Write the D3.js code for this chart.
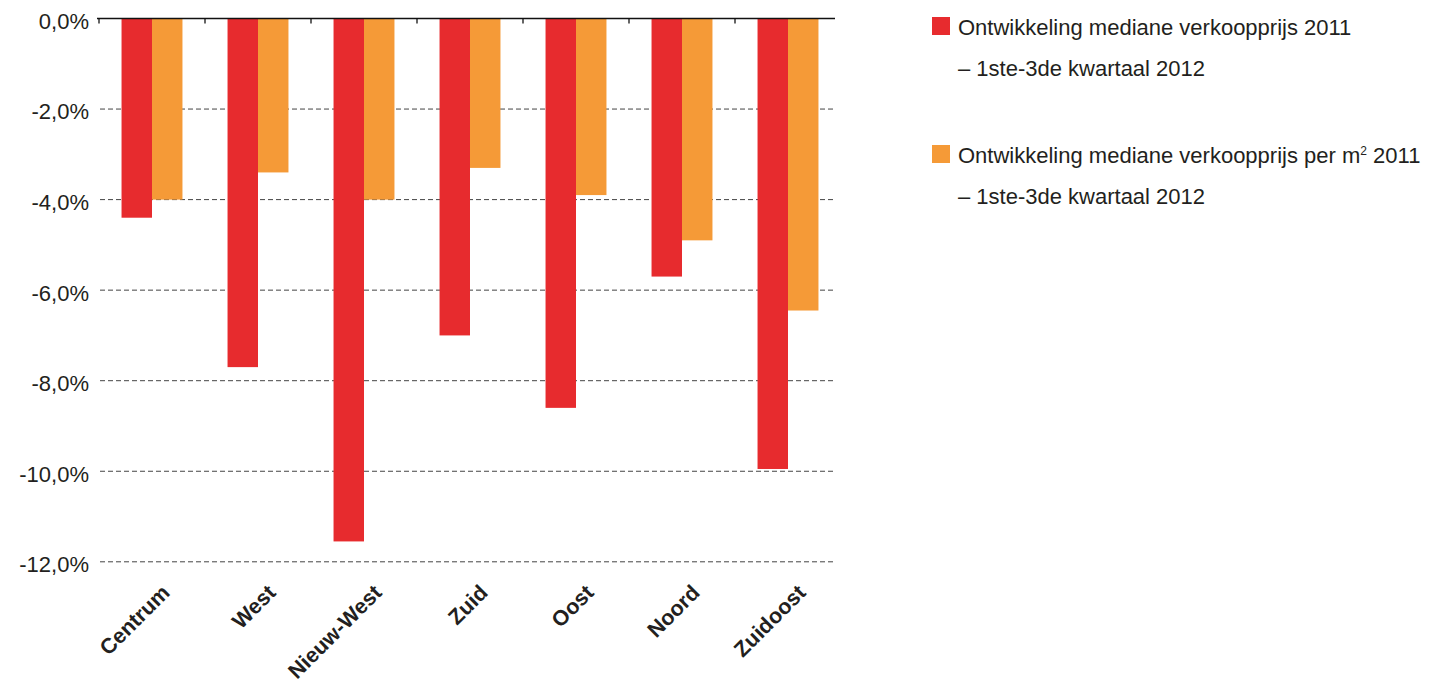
<!DOCTYPE html>
<html>
<head>
<meta charset="utf-8">
<script src="https://cdn.jsdelivr.net/npm/d3@7/dist/d3.min.js"></script>
<style>
  html, body { margin: 0; padding: 0; background: #fff; }
  svg { display: block; }
  text { font-family: "Liberation Sans", Arial, Helvetica, sans-serif; fill: #231f20; }
</style>
</head>
<body>
<svg id="chart" width="1436" height="682"></svg>
<script>
// Stadsdelen van Amsterdam
const categories = ["Centrum", "West", "Nieuw-West", "Zuid", "Oost", "Noord", "Zuidoost"];
const seriesKeys = ["prijs", "prijsM2"];
// Ontwikkeling mediane verkoopprijs 2011 – 1ste-3de kwartaal 2012 (%)
const prijs = [-4.4, -7.7, -11.55, -7.0, -8.6, -5.7, -9.95];
// Ontwikkeling mediane verkoopprijs per m² 2011 – 1ste-3de kwartaal 2012 (%)
const prijsM2 = [-4.0, -3.4, -4.0, -3.3, -3.9, -4.9, -6.45];
const yTicks = [0, -2, -4, -6, -8, -10, -12];
const seriesColors = ["#e72b2e", "#f59a37"];
const legendLines = [
  ["Ontwikkeling mediane verkoopprijs 2011", "– 1ste-3de kwartaal 2012"],
  ["Ontwikkeling mediane verkoopprijs per m", "– 1ste-3de kwartaal 2012"]
];

const rows = categories.map((c, i) => ({ cat: c, prijs: prijs[i], prijsM2: prijsM2[i] }));

const svg = d3.select("#chart");

const x = d3.scaleBand().domain(categories).range([99, 99 + 106 * 7]).paddingInner(0).paddingOuter(0);
const xSub = d3.scaleBand().domain(seriesKeys).range([0, x.bandwidth()]).paddingInner(0).paddingOuter(0.74);
const y = d3.scaleLinear().domain([0, -12]).range([18.5, 561.8]);
const color = d3.scaleOrdinal().domain(seriesKeys).range(seriesColors);

const plotRight = 835;

// dashed gridlines
svg.append("g")
  .selectAll("line")
  .data(yTicks.filter(t => t !== 0))
  .join("line")
  .attr("x1", 100).attr("x2", plotRight)
  .attr("y1", d => y(d)).attr("y2", d => y(d))
  .attr("stroke", "#444")
  .attr("stroke-width", 1)
  .attr("stroke-dasharray", "5,3");

// y axis labels
const fmt = v => v.toFixed(1).replace(".", ",") + "%";
const yAxis = svg.append("g")
  .attr("transform", "translate(89,0)")
  .call(d3.axisLeft(y).tickValues(yTicks).tickFormat(fmt).tickSize(0).tickPadding(0));
yAxis.select(".domain").remove();
yAxis.selectAll("text")
  .attr("font-size", 22)
  .attr("dy", "0.45em")
  .attr("fill", "#231f20")
  .style("font-family", "'Liberation Sans', Arial, Helvetica, sans-serif");

// bars
svg.append("g")
  .selectAll("g")
  .data(rows)
  .join("g")
  .attr("transform", d => `translate(${x(d.cat)},0)`)
  .selectAll("rect")
  .data(d => seriesKeys.map(k => ({ key: k, value: d[k] })))
  .join("rect")
  .attr("x", d => xSub(d.key))
  .attr("width", xSub.bandwidth())
  .attr("y", y(0))
  .attr("height", d => y(d.value) - y(0))
  .attr("fill", d => color(d.key));

// zero line with ticks
const zero = svg.append("g");
zero.append("line")
  .attr("x1", 97).attr("x2", plotRight)
  .attr("y1", y(0)).attr("y2", y(0))
  .attr("stroke", "#111").attr("stroke-width", 1.3);
zero.selectAll("line.tick")
  .data(categories)
  .join("line")
  .attr("class", "tick")
  .attr("x1", d => x(d)).attr("x2", d => x(d))
  .attr("y1", y(0)).attr("y2", y(0) + 5)
  .attr("stroke", "#111").attr("stroke-width", 1.3);

// category labels, rotated, ending just right of the band centre
svg.append("g")
  .selectAll("text")
  .data(categories)
  .join("text")
  .attr("transform", d => `translate(${x(d) + x.bandwidth() / 2 + 19},594) rotate(-45)`)
  .attr("text-anchor", "end")
  .attr("font-size", 21.5)
  .attr("font-weight", "bold")
  .text(d => d);

// legend
const legend = svg.append("g");
const legendTop = [17, 145];
legendLines.forEach((lines, i) => {
  const g = legend.append("g").attr("transform", `translate(932,${legendTop[i]})`);
  g.append("rect").attr("width", 18).attr("height", 18).attr("fill", seriesColors[i]);
  const t1 = g.append("text").attr("x", 26).attr("y", 18).attr("font-size", 22).text(lines[0]);
  if (i === 1) {
    t1.append("tspan").attr("font-size", 12).attr("dy", -8).text("2");
    t1.append("tspan").attr("dy", 8).text(" 2011");
  }
  g.append("text").attr("x", 26).attr("y", 59).attr("font-size", 22).text(lines[1]);
});
</script>
</body>
</html>
